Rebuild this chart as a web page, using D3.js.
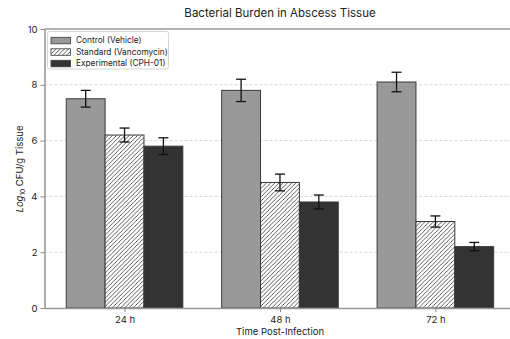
<!DOCTYPE html>
<html><head><meta charset="utf-8">
<script src="https://cdn.jsdelivr.net/npm/d3@7"></script>
<style>
html,body{margin:0;padding:0;background:#fff;}
svg{display:block;font-family:Inter, "DejaVu Sans", sans-serif;}
</style></head>
<body>
<svg id="chart" width="510" height="339"></svg>
<script>
const categories = ["24 h", "48 h", "72 h"];
const seriesNames = ["Control (Vehicle)", "Standard (Vancomycin)", "Experimental (CPH-01)"];
const controlValues = [7.5, 7.8, 8.1];
const controlErrors = [0.3, 0.4, 0.35];
const standardValues = [6.2, 4.5, 3.1];
const standardErrors = [0.25, 0.3, 0.2];
const experimentalValues = [5.8, 3.8, 2.2];
const experimentalErrors = [0.3, 0.25, 0.15];
const yTicks = [0, 2, 4, 6, 8, 10];

const series = [
  {name: seriesNames[0], values: controlValues, errors: controlErrors, fill: "#999999", hatch: false},
  {name: seriesNames[1], values: standardValues, errors: standardErrors, fill: "#ffffff", hatch: true},
  {name: seriesNames[2], values: experimentalValues, errors: experimentalErrors, fill: "#333333", hatch: false}
];

const svg = d3.select("#chart");
const pLeft = 44.5, pRight = 510, pTop = 29, pBottom = 308;
const x = d3.scaleLinear().domain([-0.515, 2.48]).range([pLeft, pRight]);
const y = d3.scaleLinear().domain([0, 10]).range([pBottom, pTop]);
const barW = 0.25;

// hatch pattern
const defs = svg.append("defs");
const pat = defs.append("pattern").attr("id", "hatch").attr("patternUnits", "userSpaceOnUse")
  .attr("width", 4.2).attr("height", 4.2);
pat.append("rect").attr("width", 4.2).attr("height", 4.2).attr("fill", "#fff");
pat.append("path").attr("d", "M-1,1 l2,-2 M0,4.2 l4.2,-4.2 M3.2,5.2 l2,-2")
  .attr("stroke", "#333").attr("stroke-width", 0.8);

// grid
svg.append("g").selectAll("line").data(yTicks.filter(d => d > 0 && d < 10)).join("line")
  .attr("x1", pLeft).attr("x2", pRight).attr("y1", d => y(d)).attr("y2", d => y(d))
  .attr("stroke", "#cccccc").attr("stroke-width", 0.8).attr("stroke-dasharray", "3,2");

// bars
series.forEach((s, si) => {
  const off = (si - 1) * barW;
  const g = svg.append("g");
  g.selectAll("rect").data(s.values).join("rect")
    .attr("x", (d, i) => x(i + off - barW / 2))
    .attr("width", x(barW) - x(0))
    .attr("y", d => y(d))
    .attr("height", d => y(0) - y(d))
    .attr("fill", s.hatch ? "url(#hatch)" : s.fill)
    .attr("stroke", "#3a3a3a").attr("stroke-width", 1);
  // error bars
  const eb = g.selectAll("g.eb").data(s.values).join("g").attr("class", "eb");
  eb.append("line")
    .attr("x1", (d, i) => x(i + off)).attr("x2", (d, i) => x(i + off))
    .attr("y1", (d, i) => y(d + s.errors[i])).attr("y2", (d, i) => y(d - s.errors[i]))
    .attr("stroke", "#111").attr("stroke-width", 1.3);
  [1, -1].forEach(sign => {
    eb.append("line")
      .attr("x1", (d, i) => x(i + off) - 5).attr("x2", (d, i) => x(i + off) + 5)
      .attr("y1", (d, i) => y(d + sign * s.errors[i])).attr("y2", (d, i) => y(d + sign * s.errors[i]))
      .attr("stroke", "#111").attr("stroke-width", 1.3);
  });
});

// axes
const xAxis = d3.axisBottom(x).tickValues([0, 1, 2]).tickFormat(i => categories[i]).tickSize(4).tickSizeOuter(0);
const gx = svg.append("g").attr("transform", `translate(0,${pBottom})`).call(xAxis);
gx.select(".domain").attr("stroke", "#999").attr("stroke-width", 1.6);
gx.selectAll(".tick line").attr("stroke", "#888");
gx.selectAll(".tick text").attr("font-size", 9.5).attr("fill", "#222").attr("dy", "0.85em")
  .attr("font-family", "Inter, 'DejaVu Sans', sans-serif");

const yAxis = d3.axisLeft(y).tickValues(yTicks).tickFormat(d3.format("d")).tickSize(4).tickSizeOuter(0);
const gy = svg.append("g").attr("transform", `translate(${pLeft},0)`).call(yAxis);
gy.select(".domain").attr("stroke", "#999").attr("stroke-width", 1.6);
gy.selectAll(".tick line").attr("stroke", "#888");
gy.selectAll(".tick text").attr("font-size", 9.5).attr("fill", "#222")
  .attr("font-family", "Inter, 'DejaVu Sans', sans-serif");

// top spine
svg.append("line").attr("x1", pLeft).attr("x2", pRight).attr("y1", pTop).attr("y2", pTop)
  .attr("stroke", "#999").attr("stroke-width", 1.6);

// title
svg.append("text").attr("x", 280).attr("y", 17).attr("text-anchor", "middle")
  .attr("font-size", 11.5).attr("fill", "#222").text("Bacterial Burden in Abscess Tissue");

// x label
svg.append("text").attr("x", 280).attr("y", 335).attr("text-anchor", "middle")
  .attr("font-size", 9.5).attr("fill", "#222").text("Time Post-Infection");

// y label
const yl = svg.append("text").attr("transform", "translate(23,169) rotate(-90)")
  .attr("text-anchor", "middle").attr("font-size", 9.5).attr("fill", "#222");
yl.append("tspan").attr("font-style", "italic").text("Log");
yl.append("tspan").attr("font-size", 6.5).attr("dy", 2).text("10");
yl.append("tspan").attr("dy", -2).text(" CFU/g Tissue");

// legend
const lg = svg.append("g");
lg.append("rect").attr("x", 47.5).attr("y", 31.5).attr("width", 121).attr("height", 37.5)
  .attr("rx", 2).attr("fill", "#fff").attr("fill-opacity", 0.9).attr("stroke", "#cccccc").attr("stroke-width", 0.8);
series.forEach((s, i) => {
  const yy = 40.3 + i * 11.5;
  lg.append("rect").attr("x", 51).attr("y", yy - 3).attr("width", 19.5).attr("height", 6.5)
    .attr("fill", s.hatch ? "url(#hatch)" : s.fill).attr("stroke", "#3a3a3a").attr("stroke-width", 0.8);
  lg.append("text").attr("x", 76).attr("y", yy).attr("dy", "0.35em")
    .attr("font-size", 8.3).attr("fill", "#222").text(s.name);
});
</script>
</body></html>
